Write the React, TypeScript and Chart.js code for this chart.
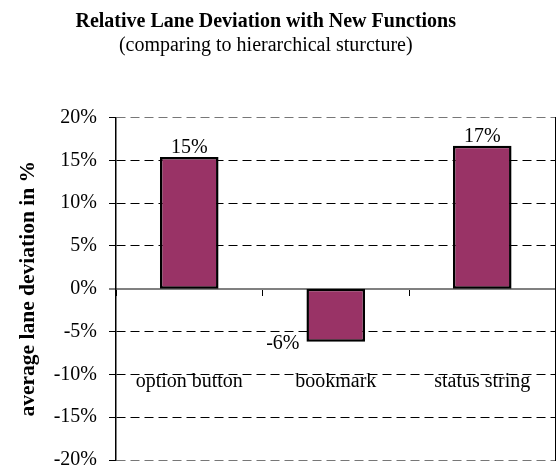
import { useEffect, useRef } from "react";
import { Chart, registerables } from "chart.js";

Chart.register(...registerables);

const categories = ["option button", "bookmark", "status string"];
const deviationValues = [15.4, -6.2, 16.7];
const dataLabels = ["15%", "-6%", "17%"];
const yMin = -20;
const yMax = 20;
const yStep = 5;

const FONT = '"Times New Roman", "Liberation Serif", serif';

const valueLabelPlugin = {
  id: "valueLabels",
  afterDatasetsDraw(chart: any) {
    const ctx = chart.ctx;
    const meta = chart.getDatasetMeta(0);
    ctx.save();
    ctx.font = `20px ${FONT}`;
    ctx.fillStyle = "#000";
    meta.data.forEach((bar: any, i: number) => {
      const { x, y, width } = bar.getProps(["x", "y", "width"], true);
      if (deviationValues[i] >= 0) {
        ctx.textAlign = "center";
        ctx.textBaseline = "alphabetic";
        ctx.fillText(dataLabels[i], x, y - 4);
      } else {
        ctx.textAlign = "right";
        ctx.textBaseline = "middle";
        ctx.fillText(dataLabels[i], x - width / 2 - 7, y + 2);
      }
    });
    ctx.restore();
  },
};

export default function App() {
  const canvasRef = useRef<HTMLCanvasElement | null>(null);

  useEffect(() => {
    if (!canvasRef.current) return;
    const chart = new Chart(canvasRef.current, {
      type: "bar",
      data: {
        labels: categories,
        datasets: [
          {
            data: deviationValues,
            backgroundColor: "#993366",
            borderColor: "#000",
            borderWidth: 2.5,
            borderSkipped: false,
            categoryPercentage: 1,
            barPercentage: 0.4,
          },
        ],
      },
      options: {
        animation: false,
        responsive: true,
        maintainAspectRatio: false,
        layout: { padding: { left: -24, right: 1.5, top: 0, bottom: 12 } },
        plugins: {
          legend: { display: false },
          tooltip: { enabled: false },
          title: {
            display: true,
            text: "Relative Lane Deviation with New Functions",
            color: "#000",
            font: { family: FONT, size: 20, weight: "bold" },
            padding: { top: 9.5, bottom: 0 },
          },
          subtitle: {
            display: true,
            text: "(comparing to hierarchical sturcture)",
            color: "#000",
            font: { family: FONT, size: 20 },
            padding: { top: 0, bottom: 60 },
          },
        },
        scales: {
          x: {
            type: "category",
            position: { y: 0 },
            offset: true,
            afterFit(scale: any) {
              scale.paddingLeft = 0;
              scale.paddingRight = 0;
              scale.paddingTop = 0;
              scale.paddingBottom = 0;
              scale.height = 0;
            },
            grid: {
              display: true,
              drawOnChartArea: false,
              drawTicks: true,
              tickLength: 6,
              offset: true,
              color: "#000",
              tickColor: "#000",
              lineWidth: 1,
            },
            border: { display: true, color: "#808080", width: 2 },
            ticks: {
              color: "#000",
              font: { family: FONT, size: 20 },
              padding: 75,
              maxRotation: 0,
              autoSkip: false,
            },
          },
          y: {
            type: "linear",
            position: "left",
            min: yMin,
            max: yMax,
            afterFit(scale: any) {
              scale.width = 140;
              scale.paddingTop = 0;
              scale.paddingBottom = 0;
            },
            ticks: {
              stepSize: yStep,
              color: "#000",
              font: { family: FONT, size: 20 },
              padding: 12,
              callback: (v: any) => `${v}%`,
            },
            grid: {
              drawTicks: true,
              tickLength: 7,
              lineWidth: (c: any) => (c.tick && c.tick.value === 0 ? 0 : 1),
              color: (c: any) =>
                c.tick && (c.tick.value === 20 || c.tick.value === -20)
                  ? "#777"
                  : "#000",
              tickColor: (c: any) =>
                c.tick && c.tick.value === 0 ? "#808080" : "#000",
              tickWidth: (c: any) => (c.tick && c.tick.value === 0 ? 2 : 1),
            },
            border: { display: true, color: "#000", width: 1.5, dash: [9, 5] },
            title: {
              display: true,
              text: "average lane deviation in %",
              color: "#000",
              font: { family: FONT, size: 21.5, weight: "bold" },
              padding: { top: 40, bottom: 0 },
            },
          },
          yRight: {
            type: "linear",
            position: "right",
            min: yMin,
            max: yMax,
            afterFit(scale: any) {
              scale.width = 0;
              scale.paddingTop = 0;
              scale.paddingBottom = 0;
            },
            ticks: { display: false },
            grid: { display: false, drawTicks: false },
            border: { display: true, color: "#000", width: 1 },
          },
        },
      },
      plugins: [valueLabelPlugin],
    } as any);
    return () => chart.destroy();
  }, []);

  return (
    <div
      style={{
        position: "fixed",
        left: 0,
        top: 0,
        width: 557,
        height: 466,
        overflow: "hidden",
        background: "#fff",
      }}
    >
      <div style={{ position: "relative", width: 557, height: 472 }}>
        <canvas ref={canvasRef} />
      </div>
    </div>
  );
}
